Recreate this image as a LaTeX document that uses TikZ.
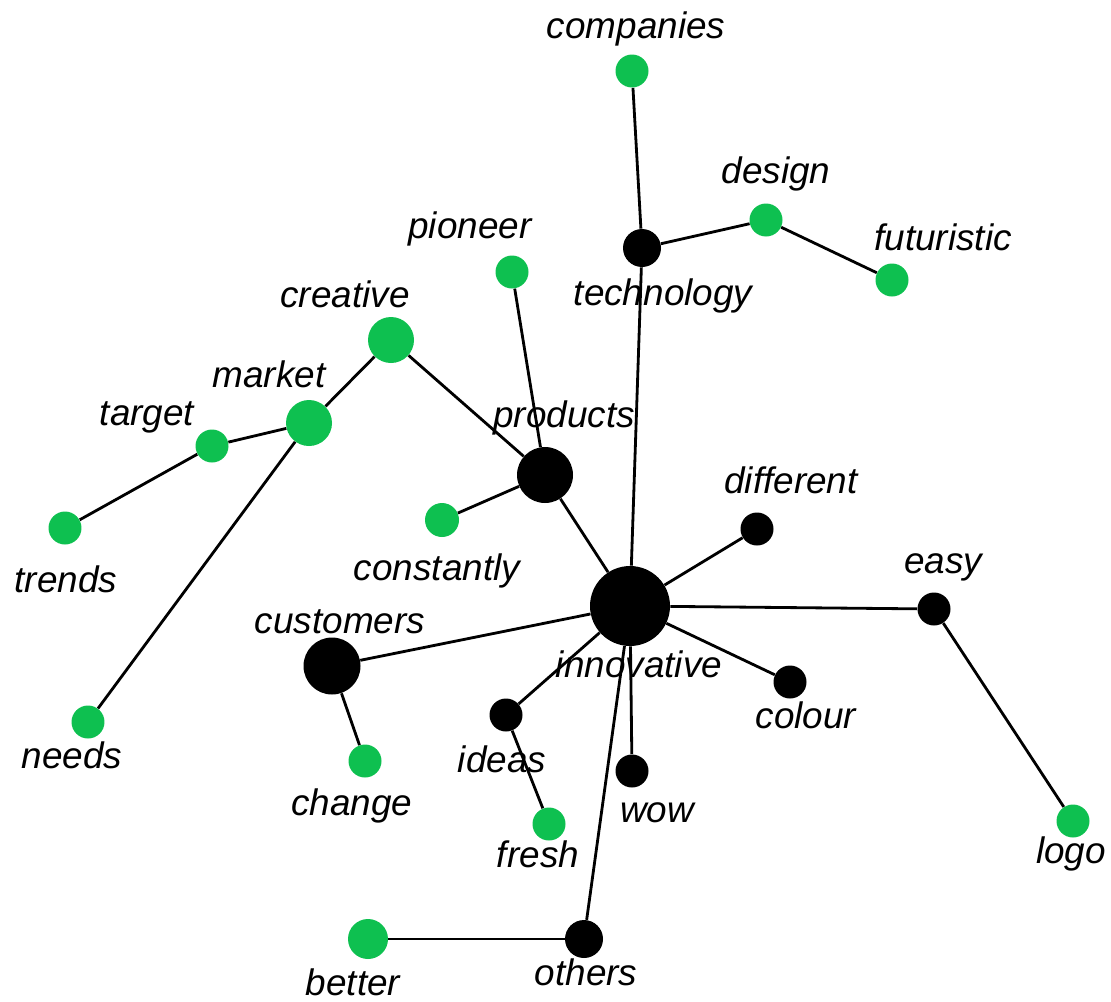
\documentclass[tikz,border=0pt]{standalone}
\usepackage{fontspec}
\setmainfont{Liberation Sans}
\usepackage{xcolor}
\usepackage{tikz}
\definecolor{leafgreen}{RGB}{14,192,80}
\tikzset{
    wordhub/.style={circle, inner sep=0pt, minimum size=#1, fill=black},
    wordhub/.default=0.66cm,
    wordleaf/.style={circle, inner sep=0pt, minimum size=#1, fill=leafgreen},
    wordleaf/.default=0.66cm,
    wordlabel/.style={anchor=base, inner sep=0pt, font=\fontsize{21}{25}\selectfont\itshape},
    wordlink/.style={draw, line width=1.6pt}
}

\begin{document}
\begin{tikzpicture}[x=0.02cm, y=-0.02cm]
    \useasboundingbox (0,0) rectangle (1111,1001);

    % black words
    \node[wordhub=1.6cm] (innovative) at (630,606) {};
    \node[wordhub=1.12cm] (products) at (545,475) {};
    \node[wordhub=1.14cm] (customers) at (332,666) {};
    \node[wordhub=0.76cm] (technology) at (642,248) {};
    \node[wordhub=0.76cm] (others) at (584,939) {};
    \node[wordhub] (different) at (757,529) {};
    \node[wordhub] (easy) at (934,609) {};
    \node[wordhub] (colour) at (790,682) {};
    \node[wordhub] (ideas) at (506,715) {};
    \node[wordhub] (wow) at (632,771) {};

    % green words
    \node[wordleaf] (companies) at (632,71) {};
    \node[wordleaf] (design) at (766,220) {};
    \node[wordleaf] (futuristic) at (892,280) {};
    \node[wordleaf] (pioneer) at (512,272) {};
    \node[wordleaf=0.92cm] (creative) at (391,340) {};
    \node[wordleaf=0.92cm] (market) at (309,423) {};
    \node[wordleaf] (target) at (212,446) {};
    \node[wordleaf] (trends) at (65,528) {};
    \node[wordleaf] (needs) at (88,722) {};
    \node[wordleaf=0.68cm] (constantly) at (442,520) {};
    \node[wordleaf] (change) at (365,761) {};
    \node[wordleaf] (fresh) at (549,824) {};
    \node[wordleaf=0.8cm] (better) at (368,939) {};
    \node[wordleaf] (logo) at (1073,821) {};

    % labels
    \node[wordlabel] (innovative-t) at (639,677) {innovative};
    \node[wordlabel] (products-t) at (564,427) {products};
    \node[wordlabel] (customers-t) at (340,633) {customers};
    \node[wordlabel] (technology-t) at (663,305) {technology};
    \node[wordlabel] (others-t) at (586,985) {others};
    \node[wordlabel] (different-t) at (791,493) {different};
    \node[wordlabel] (easy-t) at (943,573) {easy};
    \node[wordlabel] (colour-t) at (806,728) {colour};
    \node[wordlabel] (ideas-t) at (502,772) {ideas};
    \node[wordlabel] (wow-t) at (657,822) {wow};
    \node[wordlabel] (companies-t) at (636,38) {companies};
    \node[wordlabel] (design-t) at (776,183) {design};
    \node[wordlabel] (futuristic-t) at (943,250) {futuristic};
    \node[wordlabel] (pioneer-t) at (470,238) {pioneer};
    \node[wordlabel] (creative-t) at (345,307) {creative};
    \node[wordlabel] (market-t) at (269,387) {market};
    \node[wordlabel] (target-t) at (147,425) {target};
    \node[wordlabel] (trends-t) at (66,592) {trends};
    \node[wordlabel] (needs-t) at (72,768) {needs};
    \node[wordlabel] (constantly-t) at (437,580) {constantly};
    \node[wordlabel] (change-t) at (352,815) {change};
    \node[wordlabel] (fresh-t) at (538,867) {fresh};
    \node[wordlabel] (better-t) at (353,995) {better};
    \node[wordlabel] (logo-t) at (1071,863) {logo};

    % links
    \draw[wordlink] (companies) -- (technology);
    \draw[wordlink] (technology) -- (design);
    \draw[wordlink] (design) -- (futuristic);
    \draw[wordlink] (technology) -- (innovative);
    \draw[wordlink] (pioneer) -- (products);
    \draw[wordlink] (creative) -- (products);
    \draw[wordlink] (creative) -- (market);
    \draw[wordlink] (market) -- (target);
    \draw[wordlink] (target) -- (trends);
    \draw[wordlink] (market) -- (needs);
    \draw[wordlink] (products) -- (constantly);
    \draw[wordlink] (products) -- (innovative);
    \draw[wordlink] (innovative) -- (different);
    \draw[wordlink] (innovative) -- (easy);
    \draw[wordlink] (easy) -- (logo);
    \draw[wordlink] (innovative) -- (colour);
    \draw[wordlink] (innovative) -- (customers);
    \draw[wordlink] (customers) -- (change);
    \draw[wordlink] (innovative) -- (ideas);
    \draw[wordlink] (ideas) -- (fresh);
    \draw[wordlink] (innovative) -- (wow);
    \draw[wordlink] (innovative) -- (others);
    \draw[wordlink] (others) -- (better);
\end{tikzpicture}
\end{document}
